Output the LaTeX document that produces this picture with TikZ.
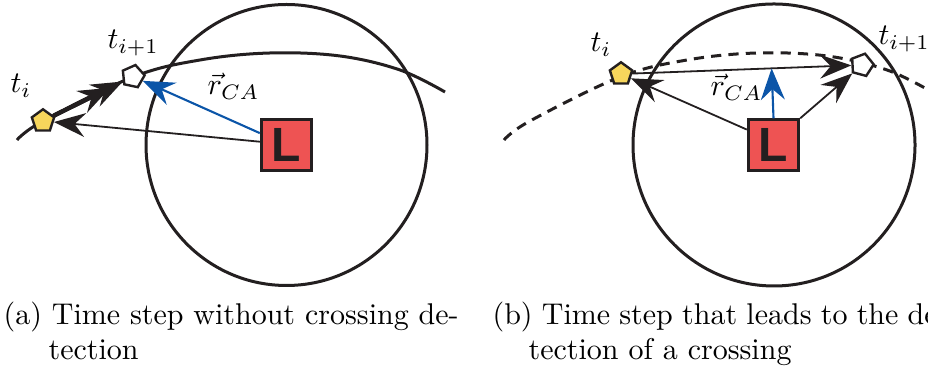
\documentclass[tikz,border=0pt]{standalone}
\usepackage{fontspec}
\newfontfamily\Lfont{Liberation Sans}
\usetikzlibrary{arrows.meta,shapes.geometric,calc}
\definecolor{boxred}{HTML}{EE5353}
\definecolor{ink}{HTML}{231F20}
\definecolor{rblue}{HTML}{0B55A8}
\definecolor{pyellow}{HTML}{F7D65C}
\tikzset{
  headtip/.style={-{Stealth[length=10.5pt,width=8pt,inset=3.6pt]}},
  thinarrow/.style={headtip, line width=0.6pt, draw=ink},
  bluearrow/.style={headtip, line width=0.7pt, draw=rblue},
  bigarrow/.style={headtip, line width=1.4pt, draw=ink},
  ring/.style={draw=ink, line width=1pt},
  traj/.style={draw=ink, line width=1pt},
  dtraj/.style={draw=ink, line width=1pt, dash pattern=on 3.4pt off 2.4pt},
  lbox/.style={draw=ink, fill=boxred, line width=1pt, minimum size=16.8pt, inner sep=0pt,
    font=\Lfont\bfseries\fontsize{16}{16}\selectfont, text=ink},
  penta/.style={regular polygon, regular polygon sides=5, minimum size=7.8pt, inner sep=0pt,
    draw=ink, line width=0.8pt},
  lab/.style={anchor=base west, inner sep=0pt},
  captext/.style={anchor=base west, inner sep=0pt}
}
\begin{document}
\begin{tikzpicture}[x=0.33333pt, y=-0.33333pt]
\useasboundingbox (0,0) rectangle (928,372);
% ---------- (a) ----------
\draw[ring] (286.5,145) circle[radius=46.83pt];
\draw[traj] plot[smooth, tension=0.6] coordinates {(17,140) (43,121) (133,77) (200,60) (270,53) (340,56) (400,70) (445,92)};
\node[penta, fill=pyellow] (ya) at (43,121) {};
\node[penta, fill=white, rotate=-12] (wa) at (133,76.5) {};
\node[lbox] (La) at (286.5,145) {L};
\draw[thinarrow] (La.173) -- (ya);
\draw[bluearrow] (La.156) -- (wa);
\draw[bigarrow] (ya) -- (wa);
\draw[bigarrow, shorten >=4.7pt] (ya) -- (wa);
\node[lab] (tia) at (10,93) {$t_i$};
\node[lab] (tja) at (107,49) {$t_{i+1}$};
\node[lab] (ra) at (207,95) {$\vec{r}_{CA}$};
% ---------- (b) ----------
\draw[ring] (774,145) circle[radius=47pt];
\begin{scope}[shift={(487,0)}]
\draw[dtraj] plot[smooth, tension=0.6] coordinates {(17,140) (43,121) (133,77) (200,60) (270,53) (340,56) (400,70) (445,92)};
\end{scope}
\node[penta, fill=pyellow] (yb) at (621,74) {};
\node[penta, fill=white, rotate=-15] (wb) at (862,65) {};
\node[lbox] (Lb) at (773.5,145) {L};
\draw[thinarrow] (yb) -- (wb);
\draw[thinarrow] (Lb.150) -- (yb);
\draw[thinarrow] (Lb.north east) -- (wb);
\draw[bluearrow] (Lb.north) -- ($(yb)!(Lb.north)!(wb)$);
\node[lab] (tib) at (590,52) {$t_i$};
\node[lab] (tjb) at (878,45) {$t_{i+1}$};
\node[lab] (rb) at (710,96) {$\vec{r}_{CA}$};
% ---------- captions ----------
\node[captext] (ca1) at (3,325) {\hbox to 151.7pt{(a) Time step without crossing de-}};
\node[captext] (ca2) at (48,360) {tection};
\node[captext] (cb1) at (492,325) {\hbox to 151.7pt{(b) Time step that leads to the de-}};
\node[captext] (cb2) at (528,360) {tection of a crossing};
\end{tikzpicture}
\end{document}
